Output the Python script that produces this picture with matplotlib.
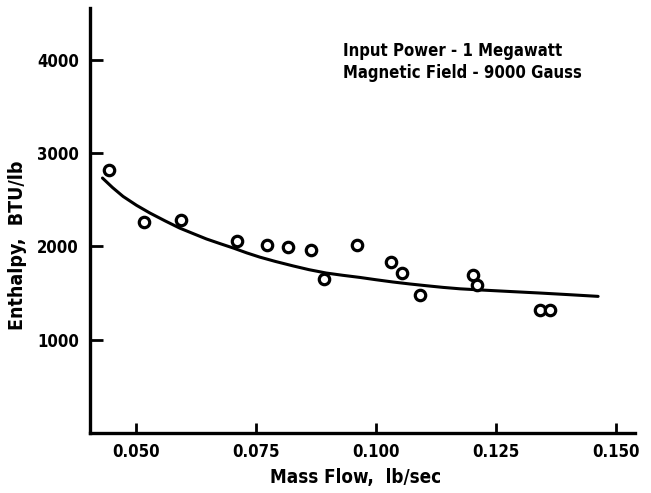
import matplotlib
matplotlib.use("Agg")
import matplotlib.pyplot as plt

# Data
mass_flow = [0.0443, 0.0516, 0.0592, 0.0709, 0.0773, 0.0816, 0.0864, 0.0891,
             0.0960, 0.1032, 0.1054, 0.1091, 0.1202, 0.1210, 0.1342, 0.1363]
enthalpy = [2814, 2261, 2286, 2061, 2018, 1993, 1964, 1653,
            2018, 1828, 1714, 1482, 1696, 1589, 1321, 1321]

curve_x = [0.0429, 0.0450, 0.0472, 0.0500, 0.0528, 0.0560, 0.0590, 0.0620,
           0.0646, 0.0675, 0.0702, 0.0730, 0.0757, 0.0790, 0.0827, 0.0860,
           0.0896, 0.0930, 0.0966, 0.1000, 0.1035, 0.1070, 0.1105, 0.1140,
           0.1175, 0.1220, 0.1280, 0.1341, 0.1400, 0.1463]
curve_y = [2732, 2630, 2535, 2440, 2357, 2272, 2196, 2133,
           2079, 2028, 1982, 1930, 1885, 1838, 1790, 1750,
           1714, 1690, 1667, 1642, 1618, 1597, 1578, 1560,
           1545, 1532, 1516, 1500, 1483, 1464]

x_ticks = [0.050, 0.075, 0.100, 0.125, 0.150]
x_tick_labels = ["0.050", "0.075", "0.100", "0.125", "0.150"]
y_ticks = [1000, 2000, 3000, 4000]
y_tick_labels = ["1000", "2000", "3000", "4000"]

annotation = "Input Power - 1 Megawatt\nMagnetic Field - 9000 Gauss"
x_label = "Mass Flow,  lb/sec"
y_label = "Enthalpy,  BTU/lb"

plt.rcParams['font.family'] = ['DejaVu Sans']
plt.rcParams['font.stretch'] = 'condensed'

fig = plt.figure(figsize=(6.51, 4.93), dpi=100)
ax = fig.add_axes([90/651, (493-433)/493, (635-90)/651, (433-8)/493])

ax.plot(curve_x, curve_y, color='black', lw=2.2, solid_capstyle='round')
ax.plot(mass_flow, enthalpy, linestyle='none', marker='o', markersize=7.5,
        markerfacecolor='white', markeredgecolor='black', markeredgewidth=2.3)

ax.set_xlim(0.0403, 0.1540)
ax.set_ylim(0, 4554)

for s in ['top', 'right']:
    ax.spines[s].set_visible(False)
for s in ['left', 'bottom']:
    ax.spines[s].set_linewidth(2.4)

ax.set_xticks(x_ticks)
ax.set_xticklabels(x_tick_labels, fontsize=12, fontweight='bold', fontstretch='condensed')
ax.set_yticks(y_ticks)
ax.set_yticklabels(y_tick_labels, fontsize=12, fontweight='bold', fontstretch='condensed')
ax.tick_params(axis='x', direction='in', length=7, width=2, pad=7)
ax.tick_params(axis='y', direction='in', length=9, width=2, pad=8)

ax.set_xlabel(x_label, fontsize=13.5, fontweight='bold', fontstretch='condensed')
ax.set_ylabel(y_label, fontsize=14, fontweight='semibold', fontstretch='condensed')
ax.xaxis.set_label_coords((356-90)/545, -(468-433)/425)
ax.yaxis.set_label_coords(-(90-27)/545, (433-245)/425)

ax.text(343, 493-62, annotation, transform=None, fontsize=12,
        fontweight='semibold', fontstretch='condensed', va='center', ha='left',
        linespacing=1.25)

fig.savefig("out.png", dpi=100)
